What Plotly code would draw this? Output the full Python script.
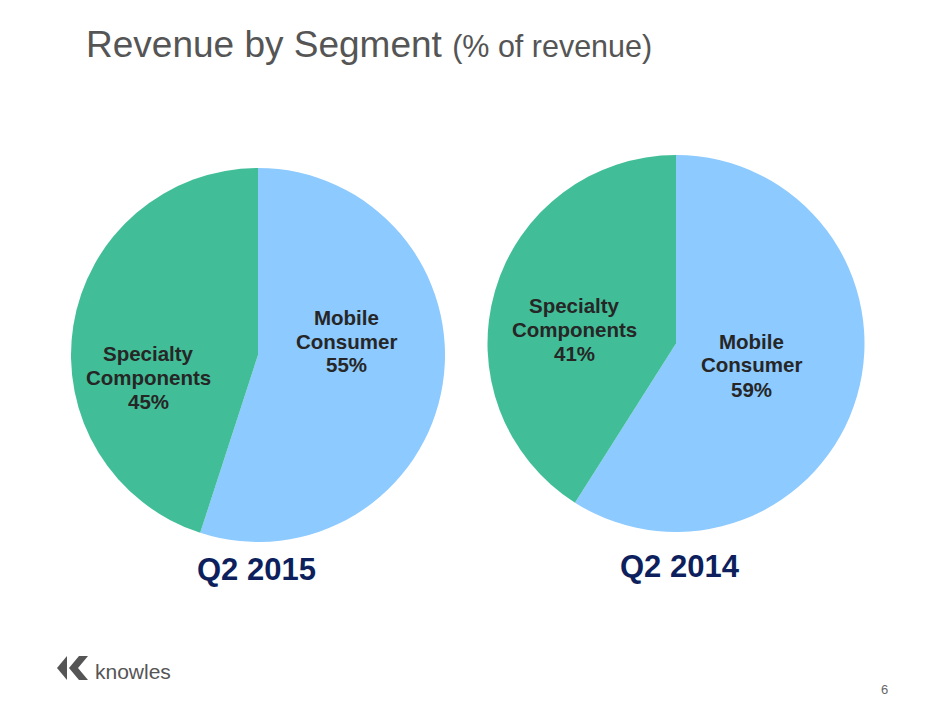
import plotly.graph_objects as go

W, H = 940, 705
OFF = 8  # browser body margin

segments = ["Mobile Consumer", "Specialty Components"]
label_lines = [["Mobile", "Consumer"], ["Specialty", "Components"]]
q2_2015 = [55, 45]
q2_2014 = [59, 41]
periods = ["Q2 2015", "Q2 2014"]
colors = ["#8CCAFF", "#41BE97"]


def px_x(x):
    return (x - OFF) / W


def px_y(y):
    return (H - (y - OFF)) / H


fig = go.Figure()

pie_boxes = [
    (258, 355, 187),
    (676, 343.5, 188.5),
]
series = [q2_2015, q2_2014]

for (cx, cy, r), vals, name in zip(pie_boxes, series, periods):
    fig.add_trace(go.Pie(
        labels=segments,
        values=vals,
        name=name,
        sort=False,
        direction="clockwise",
        rotation=0,
        marker=dict(colors=colors, line=dict(width=0)),
        textinfo="none",
        hoverinfo="label+percent",
        showlegend=False,
        domain=dict(x=[px_x(cx - r), px_x(cx + r)], y=[px_y(cy + r), px_y(cy - r)]),
    ))

# label anchor (pixel center of first line) for each pie: [mobile, specialty]
label_pos = [
    [(346, 317), (148, 353)],
    [(751, 341), (574, 305)],
]
LINE_GAP = 24
annotations = []
label_font = dict(family="Liberation Sans, Arial, sans-serif", size=20.5, color="#262626")
for vals, positions in zip(series, label_pos):
    for i, (lx, ly) in enumerate(positions):
        lines = label_lines[i] + [f"{vals[i]}%"]
        for k, line in enumerate(lines):
            annotations.append(dict(
                x=px_x(lx), y=px_y(ly + k * LINE_GAP), xref="paper", yref="paper",
                text=f"<b>{line}</b>", showarrow=False,
                xanchor="center", yanchor="middle", align="center",
                font=label_font,
            ))

# period labels
for name, (lx, ly) in zip(periods, [(256, 569), (680, 566)]):
    annotations.append(dict(
        x=px_x(lx), y=px_y(ly), xref="paper", yref="paper",
        text=f"<b>{name}</b>", showarrow=False,
        xanchor="center", yanchor="middle",
        font=dict(family="Liberation Sans, Arial, sans-serif", size=31, color="#0D1F5C"),
    ))

# title
annotations.append(dict(
    x=px_x(84), y=px_y(45), xref="paper", yref="paper",
    text="Revenue by Segment <span style='font-size:30.5px'>(% of revenue)</span>",
    showarrow=False, xanchor="left", yanchor="middle",
    font=dict(family="Liberation Sans, Arial, sans-serif", size=37, color="#555555"),
))

# logo text
annotations.append(dict(
    x=px_x(93), y=px_y(671), xref="paper", yref="paper",
    text="knowles", showarrow=False, xanchor="left", yanchor="middle",
    font=dict(family="Liberation Sans, Arial, sans-serif", size=21, color="#555555"),
))

# page number
annotations.append(dict(
    x=px_x(884), y=px_y(689), xref="paper", yref="paper",
    text="6", showarrow=False, xanchor="center", yanchor="middle",
    font=dict(family="Liberation Sans, Arial, sans-serif", size=13, color="#666666"),
))


def path(points):
    return "M " + " L ".join(f"{px_x(x):.5f},{px_y(y):.5f}" for x, y in points) + " Z"


shapes = [
    dict(type="path", xref="paper", yref="paper",
         path=path([(57, 668), (67, 656), (67, 680)]),
         fillcolor="#555555", line=dict(width=0)),
    dict(type="path", xref="paper", yref="paper",
         path=path([(69, 668), (79, 656), (88, 656), (78, 668), (88, 680), (79, 680)]),
         fillcolor="#555555", line=dict(width=0)),
]

fig.update_layout(
    width=W, height=H,
    margin=dict(l=0, r=0, t=0, b=0),
    paper_bgcolor="white", plot_bgcolor="white",
    annotations=annotations,
    shapes=shapes,
)

fig.write_html("out.html")
